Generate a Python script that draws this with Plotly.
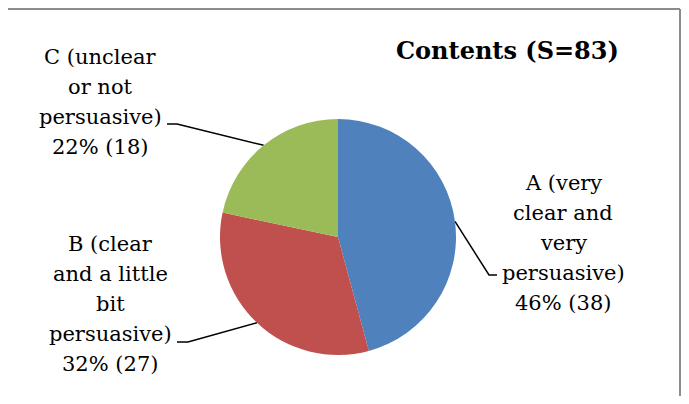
import numpy as np
import plotly.graph_objects as go

# dados do gráfico
categorias = [["A (very", "clear and", "very", "persuasive)"],
              ["B (clear", "and a little", "bit", "persuasive)"],
              ["C (unclear", "or not", "persuasive)"]]
valores = [38, 27, 18]
percentuais = [46, 32, 22]
cores = ["#4F81BD", "#C0504D", "#9BBB59"]
titulo = "Contents (S=83)"

W, H = 689, 404
OFF = 8  # margem padrão do <body> na página
FW, FH = W - 2 * OFF, H - 2 * OFF  # figura cabe na janela sem barras de rolagem
cx, cy, r = 338, 237, 118  # centro e raio da pizza em pixels de tela
FONTE = "DejaVu Serif"
ENTRELINHA = 30

# posição de cada rótulo (centro x, centro da 1a linha) e cotovelo da linha guia
pos_rotulos = [(563, 183), (110, 244), (100, 57)]
cotovelos = [[(497, 275), (489, 275)],
             [(177, 342), (188, 342)],
             [(167, 124), (177, 124)]]

fig = go.Figure()

fig.add_trace(go.Pie(
    values=valores,
    labels=["A", "B", "C"],
    marker=dict(colors=cores, line=dict(color="white", width=0)),
    sort=False,
    direction="clockwise",
    rotation=0,
    textinfo="none",
    hoverinfo="label+value+percent",
    showlegend=False,
    domain=dict(x=[(cx - OFF - r) / FW, (cx - OFF + r) / FW],
                y=[(FH - (cy - OFF) - r) / FH, (FH - (cy - OFF) + r) / FH]),
))

# linhas guia: do cotovelo até a borda da fatia (ângulo médio calculado dos valores)
total = sum(valores)
acumulado = np.cumsum([0] + valores)
for i, v in enumerate(valores):
    meio = (acumulado[i] + v / 2) / total * 2 * np.pi
    bx = cx + r * np.sin(meio)
    by = cy - r * np.cos(meio)
    xs = [p[0] for p in cotovelos[i]] + [bx]
    ys = [p[1] for p in cotovelos[i]] + [by]
    fig.add_trace(go.Scatter(x=xs, y=ys, mode="lines", line=dict(color="black", width=1.5),
                             hoverinfo="skip", showlegend=False))

    # uma anotação por linha para controlar a entrelinha
    linhas = categorias[i] + [f"{percentuais[i]}% ({v})"]
    for k, txt in enumerate(linhas):
        fig.add_annotation(x=pos_rotulos[i][0], y=pos_rotulos[i][1] + k * ENTRELINHA,
                           xref="x", yref="y", text=txt, showarrow=False,
                           font=dict(family=FONTE, size=21, color="black"))

fig.add_annotation(x=507, y=50, xref="x", yref="y", text=f"<b>{titulo}</b>", showarrow=False,
                   font=dict(family=FONTE, size=24, color="black"))

# moldura cinza (topo e lado direito)
borda = dict(color="#8c8c8c", width=2)
xb = OFF + FW - 1
fig.add_shape(type="line", x0=OFF, y0=9, x1=xb, y1=9, xref="x", yref="y", line=borda)
fig.add_shape(type="line", x0=xb, y0=9, x1=xb, y1=OFF + FH, xref="x", yref="y", line=borda)

fig.update_layout(
    width=FW, height=FH,
    margin=dict(l=0, r=0, t=0, b=0),
    paper_bgcolor="white", plot_bgcolor="white",
    xaxis=dict(range=[OFF, OFF + FW], visible=False, fixedrange=True),
    yaxis=dict(range=[OFF + FH, OFF], visible=False, fixedrange=True),
)

fig.write_html("out.html")
